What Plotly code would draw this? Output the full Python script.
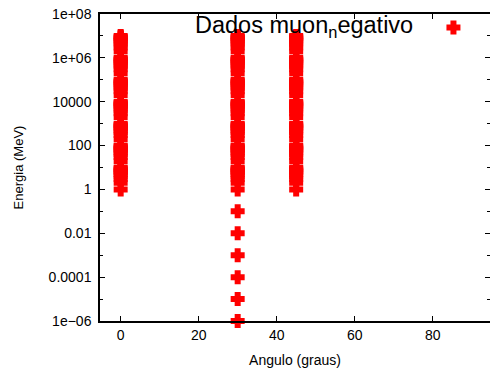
import plotly.graph_objects as go

# Muon energy samples (MeV) recorded at each incidence angle (degrees)
angles = [0, 30, 45]

energy_0deg = [1, 2, 3, 4, 5, 6, 7, 8, 9,
               10, 20, 30, 40, 50, 60, 70, 80, 90,
               100, 200, 300, 400, 500, 600, 700, 800, 900,
               1e3, 2e3, 3e3, 4e3, 5e3, 6e3, 7e3, 8e3, 9e3,
               1e4, 2e4, 3e4, 4e4, 5e4, 6e4, 7e4, 8e4, 9e4,
               1e5, 2e5, 3e5, 4e5, 5e5, 6e5, 7e5, 8e5, 9e5,
               1e6, 2e6, 3e6, 4e6, 5e6, 6e6, 7e6, 8e6, 9e6,
               1e7]

energy_30deg = [1e-6, 1e-5, 1e-4, 1e-3, 1e-2, 1e-1,
                1, 2, 3, 4, 5, 6, 7, 8, 9,
                10, 20, 30, 40, 50, 60, 70, 80, 90,
                100, 200, 300, 400, 500, 600, 700, 800, 900,
                1e3, 2e3, 3e3, 4e3, 5e3, 6e3, 7e3, 8e3, 9e3,
                1e4, 2e4, 3e4, 4e4, 5e4, 6e4, 7e4, 8e4, 9e4,
                1e5, 2e5, 3e5, 4e5, 5e5, 6e5, 7e5, 8e5, 9e5,
                1e6, 2e6, 3e6, 4e6, 5e6, 6e6, 7e6, 8e6, 9e6,
                1e7]

energy_45deg = [1, 2, 3, 4, 5, 6, 7, 8, 9,
                10, 20, 30, 40, 50, 60, 70, 80, 90,
                100, 200, 300, 400, 500, 600, 700, 800, 900,
                1e3, 2e3, 3e3, 4e3, 5e3, 6e3, 7e3, 8e3, 9e3,
                1e4, 2e4, 3e4, 4e4, 5e4, 6e4, 7e4, 8e4, 9e4,
                1e5, 2e5, 3e5, 4e5, 5e5, 6e5, 7e5, 8e5, 9e5,
                1e6, 2e6, 3e6, 4e6, 5e6, 6e6, 7e6, 8e6, 9e6,
                1e7]

x_ticks = [0, 20, 40, 60, 80]
y_ticks = [1e-6, 1e-4, 1e-2, 1, 1e2, 1e4, 1e6, 1e8]
y_tick_labels = ["1e\u221206", "0.0001", "0.01", "1", "100", "10000", "1e+06", "1e+08"]
y_minor_ticks = [1e-5, 1e-3, 1e-1, 10, 1e3, 1e5, 1e7]

series_label = "Dados muon<sub>n</sub>egativo"

xs, ys = [], []
for ang, energies in zip(angles, [energy_0deg, energy_30deg, energy_45deg]):
    xs += [ang] * len(energies)
    ys += energies

FONT = "Liberation Sans, Arial, Helvetica, sans-serif"

fig = go.Figure()
fig.add_trace(go.Scatter(
    x=xs, y=ys, mode="markers", name=" ",
    marker=dict(symbol="cross", size=10, color="#ff0000",
                line=dict(width=2, color="#ff0000")),
    cliponaxis=False,
    showlegend=True,
))

fig.update_layout(
    template="none",
    width=490, height=371,
    margin=dict(l=100, r=0, t=14, b=50),
    paper_bgcolor="white", plot_bgcolor="white",
    font=dict(family=FONT, size=14, color="black"),
    showlegend=True,
    legend=dict(x=0.855, y=0.955, xanchor="left", yanchor="middle",
                bgcolor="rgba(0,0,0,0)", font=dict(size=14, color="black"),
                itemwidth=30),
    xaxis=dict(
        range=[-5.3, 94.7], tickvals=x_ticks,
        ticks="inside", ticklen=5, tickcolor="black", tickwidth=1,
        showline=True, linecolor="black", linewidth=1.5, mirror="ticks",
        showgrid=False, zeroline=False,
        title=dict(text="Angulo (graus)", font=dict(size=14, color="black"),
                   standoff=14),
        tickfont=dict(size=14, color="black"),
    ),
    yaxis=dict(
        type="log", range=[-6, 8],
        tickvals=y_ticks, ticktext=y_tick_labels,
        ticks="inside", ticklen=5, tickcolor="black", tickwidth=1,
        minor=dict(tickvals=y_minor_ticks, ticks="inside", ticklen=3,
                   tickcolor="black", showgrid=False),
        showline=True, linecolor="black", linewidth=1.5, mirror="ticks",
        showgrid=False, zeroline=False,
        ticklabelstandoff=4,
        title=dict(text="Energia (MeV)", font=dict(size=13, color="black"),
                   standoff=22),
        tickfont=dict(size=14, color="black"),
    ),
    annotations=[dict(
        text=series_label, xref="paper", yref="paper",
        x=(415 - 100) / 390, y=0.958, xanchor="right", yanchor="middle",
        showarrow=False, font=dict(size=23.5, color="black"),
    )],
)

fig.write_html("out.html")
